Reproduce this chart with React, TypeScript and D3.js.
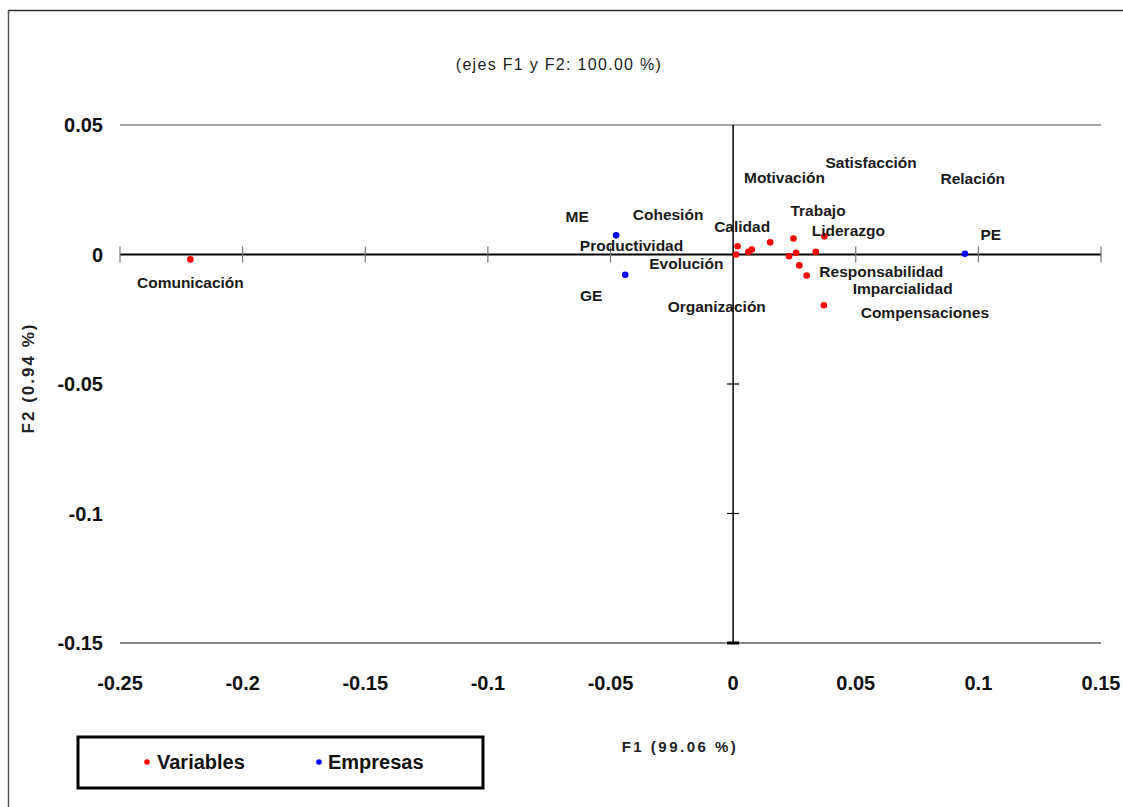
import React from 'react'
import * as d3 from 'd3'

type Pt = { name: string; f1: number; f2: number; group: 'Variables' | 'Empresas' }

// coordinates (F1, F2)
const variableNames = [
  'Comunicación',
  'Cohesión',
  'Productividad',
  'Evolución',
  'Organización',
  'Calidad',
  'Motivación',
  'Trabajo',
  'Satisfacción',
  'Responsabilidad',
  'Imparcialidad',
  'Relación',
  'Liderazgo',
  'Compensaciones',
]
const variableF1 = [
  -0.2213, 0.0012, 0.0018, 0.0062, 0.0076, 0.0151, 0.0246, 0.0228, 0.0257,
  0.027, 0.03, 0.0337, 0.0372, 0.037,
]
const variableF2 = [
  -0.0019, 0.0, 0.0032, 0.001, 0.0019, 0.0047, 0.0062, -0.0007, 0.0007,
  -0.0042, -0.0081, 0.001, 0.007, -0.0196,
]

const companyNames = ['ME', 'GE', 'PE']
const companyF1 = [-0.0477, -0.044, 0.0945]
const companyF2 = [0.0074, -0.0078, 0.0003]

const xTicks = [-0.25, -0.2, -0.15, -0.1, -0.05, 0, 0.05, 0.1, 0.15]
const yTicks = [0.05, 0, -0.05, -0.1, -0.15]

// label placement (pixel offsets from the point, label centre)
const labelOffset: Record<string, [number, number]> = {
  Comunicación: [0, 23],
  Cohesión: [-68, -40],
  Productividad: [-106, -1],
  Evolución: [-62, 12],
  Organización: [-35, 57],
  Calidad: [-28, -16],
  Motivación: [-9, -61],
  Trabajo: [29, -46],
  Satisfacción: [75, -90],
  Responsabilidad: [82, 6],
  Imparcialidad: [96, 13],
  Relación: [157, -73],
  Liderazgo: [24, -6],
  Compensaciones: [101, 7],
  ME: [-39, -19],
  GE: [-34, 21],
  PE: [26, -19],
}

const colors = { Variables: '#ff0000', Empresas: '#0000ff' }
const font = '"Liberation Sans", Arial, sans-serif'

const points: Pt[] = [
  ...variableNames.map((name, i) => ({
    name,
    f1: variableF1[i],
    f2: variableF2[i],
    group: 'Variables' as const,
  })),
  ...companyNames.map((name, i) => ({
    name,
    f1: companyF1[i],
    f2: companyF2[i],
    group: 'Empresas' as const,
  })),
]

const App: React.FC = () => {
  const W = 1123
  const H = 807
  const x = d3.scaleLinear().domain([-0.25, 0.15]).range([120, 1101])
  const y = d3.scaleLinear().domain([-0.15, 0.05]).range([643, 125])
  const x0 = x(0)
  const y0 = y(0)

  return (
    <div style={{ position: 'absolute', left: 0, top: 0 }}>
      <svg width={W} height={H} style={{ display: 'block', background: '#fff' }}>
        {/* outer frame */}
        <line x1={8} y1={10.5} x2={W} y2={10.5} stroke="#333" strokeWidth={1.5} />
        <line x1={8.5} y1={10} x2={8.5} y2={H} stroke="#555" strokeWidth={1.5} />

        <text
          x={559}
          y={64}
          textAnchor="middle"
          dominantBaseline="central"
          fontFamily={font}
          fontSize={16}
          letterSpacing={1.3}
          fill="#222"
        >
          (ejes F1 y F2: 100.00 %)
        </text>

        {/* top and bottom bounds */}
        <line x1={x(-0.25)} x2={x(0.15)} y1={y(0.05)} y2={y(0.05)} stroke="#888" strokeWidth={1.5} />
        <line x1={x(-0.25)} x2={x(0.15)} y1={y(-0.15)} y2={y(-0.15)} stroke="#888" strokeWidth={2} />

        {/* x axis through origin */}
        <line x1={x(-0.25)} x2={x(0.15)} y1={y0} y2={y0} stroke="#000" strokeWidth={2} />
        {xTicks.filter((t) => t !== 0).map((t) => (
          <line key={`xt${t}`} x1={x(t)} x2={x(t)} y1={y0 - 8} y2={y0 + 8} stroke="#777" strokeWidth={1.2} />
        ))}

        {/* y axis through origin */}
        <line x1={x0} x2={x0} y1={y(0.05)} y2={y(-0.15)} stroke="#000" strokeWidth={1.5} />
        {yTicks.filter((t) => t !== 0 && t !== 0.05).map((t) => (
          <line key={`yt${t}`} x1={x0 - 6} x2={x0 + 6} y1={y(t)} y2={y(t)} stroke="#000" strokeWidth={t === -0.15 ? 3 : 1.2} />
        ))}

        {/* tick labels */}
        {xTicks.map((t) => (
          <text
            key={`xl${t}`}
            x={x(t)}
            y={683}
            textAnchor="middle"
            dominantBaseline="central"
            fontFamily={font}
            fontWeight="bold"
            fontSize={20}
            fill="#111"
          >
            {String(t)}
          </text>
        ))}
        {yTicks.map((t) => (
          <text
            key={`yl${t}`}
            x={103}
            y={y(t)}
            textAnchor="end"
            dominantBaseline="central"
            fontFamily={font}
            fontWeight="bold"
            fontSize={20}
            fill="#111"
          >
            {String(t)}
          </text>
        ))}

        {/* axis titles */}
        <text
          x={680}
          y={746}
          textAnchor="middle"
          dominantBaseline="central"
          fontFamily={font}
          fontWeight="bold"
          fontSize={15}
          letterSpacing={2.5}
          fill="#222"
        >
          F1 (99.06 %)
        </text>
        <text
          transform="translate(28,378) rotate(-90)"
          textAnchor="middle"
          dominantBaseline="central"
          fontFamily={font}
          fontWeight="bold"
          fontSize={17}
          letterSpacing={2}
          fill="#222"
        >
          F2 (0.94 %)
        </text>

        {/* points */}
        {points.map((p) => (
          <circle key={`p${p.name}`} cx={x(p.f1)} cy={y(p.f2)} r={3.3} fill={colors[p.group]} />
        ))}
        {points.map((p) => {
          const [dx, dy] = labelOffset[p.name] ?? [0, -14]
          return (
            <text
              key={`l${p.name}`}
              x={x(p.f1) + dx}
              y={y(p.f2) + dy}
              textAnchor="middle"
              dominantBaseline="central"
              fontFamily={font}
              fontWeight="bold"
              fontSize={15.5}
              fill="#1a1a1a"
            >
              {p.name}
            </text>
          )
        })}

        {/* legend */}
        <rect x={78} y={737} width={405} height={51} fill="#fff" stroke="#000" strokeWidth={3} />
        <circle cx={147} cy={762} r={2.8} fill={colors.Variables} />
        <text x={157} y={762} dominantBaseline="central" fontFamily={font} fontWeight="bold" fontSize={20} fill="#111">
          Variables
        </text>
        <circle cx={319} cy={762} r={2.8} fill={colors.Empresas} />
        <text x={328} y={762} dominantBaseline="central" fontFamily={font} fontWeight="bold" fontSize={20} fill="#111">
          Empresas
        </text>
      </svg>
    </div>
  )
}

export default App
